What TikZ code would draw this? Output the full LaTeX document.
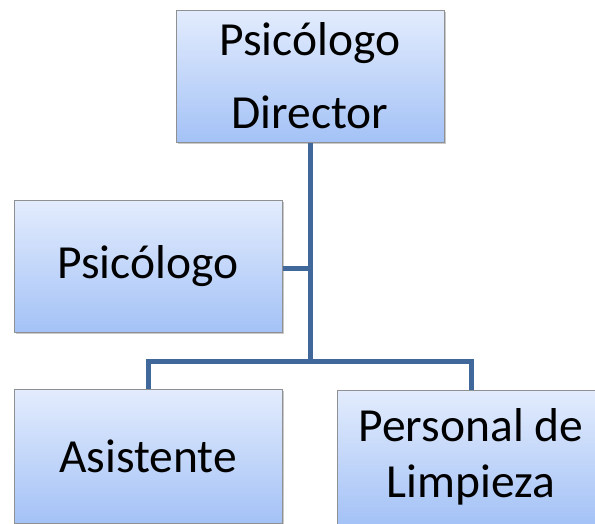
\documentclass[tikz,border=0pt]{standalone}
\usepackage{fontspec}
\setmainfont{Carlito}
\usetikzlibrary{shadows}
\definecolor{linecol}{HTML}{41689A}
\definecolor{boxtop}{HTML}{E3ECFD}
\definecolor{boxbot}{HTML}{A4C2F6}
\definecolor{boxline}{HTML}{8E9092}
\tikzset{
  orgbox/.style={draw=boxline, line width=1pt, top color=boxtop, bottom color=boxbot,
    minimum width=268pt, minimum height=132pt, inner sep=0pt, align=center,
    font=\fontsize{47.5}{56}\selectfont,
    drop shadow={shadow xshift=2pt, shadow yshift=-2pt, opacity=0.35, fill=black!60}},
  conn/.style={draw=linecol, line width=5pt}
}
\begin{document}
\begin{tikzpicture}[x=1pt,y=-1pt]
\useasboundingbox (0,0) rectangle (595,523);
\clip (0,0) rectangle (595,523);
\fill[white] (0,0) rectangle (595,523);
\node[orgbox, font=\fontsize{47.5}{73}\selectfont] (dir) at (310,76) {Psicólogo\\Director};
\node[orgbox] (psi) at (148,266) {Psicólogo};
\node[orgbox, minimum height=134pt] (asi) at (148,456) {Asistente};
\node[orgbox, minimum height=134pt] (lim) at (471,457) {Personal de\\Limpieza};
\coordinate (j1) at (310,268);
\coordinate (j2) at (310,361);
\coordinate (ja) at (148,361);
\coordinate (jl) at (471,361);
\draw[conn] (dir.south) -- (j2);
\draw[conn] (psi.east |- j1) -- (j1);
\draw[conn] (asi.north) -- (ja) -- (jl) -- (lim.north);
\end{tikzpicture}
\end{document}
